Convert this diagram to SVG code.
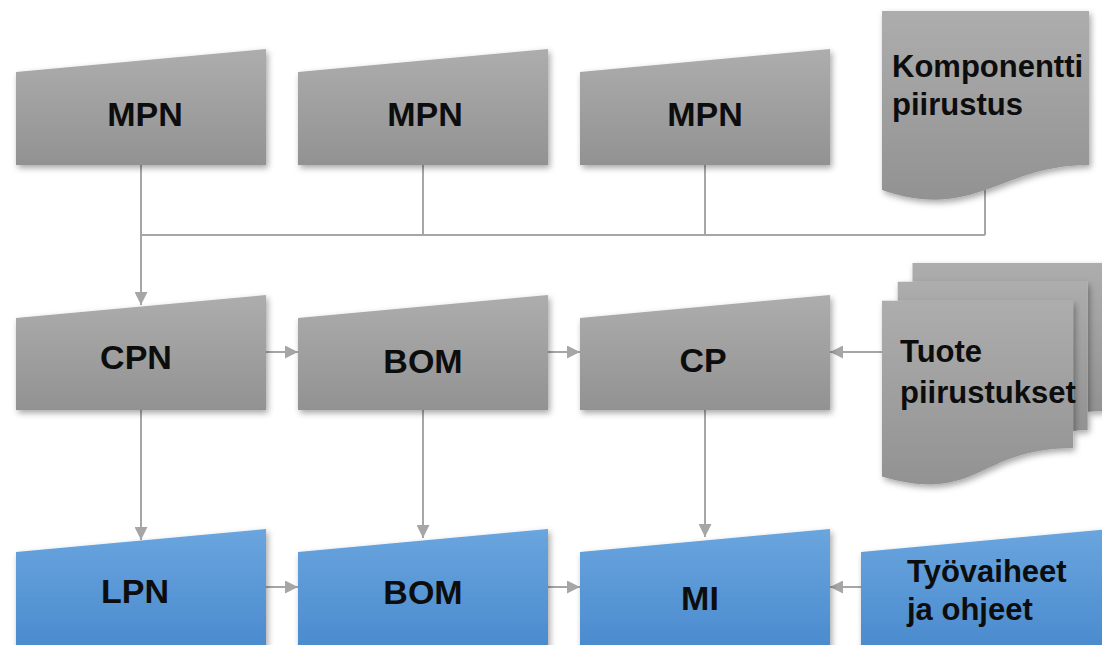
<svg xmlns="http://www.w3.org/2000/svg" width="1102" height="645" viewBox="0 0 1102 645">
  <defs>
    <linearGradient id="grayFill" x1="0" y1="0" x2="0" y2="1">
      <stop offset="0" stop-color="#adadad"/>
      <stop offset="1" stop-color="#929292"/>
    </linearGradient>
    <linearGradient id="blueFill" x1="0" y1="0" x2="0" y2="1">
      <stop offset="0" stop-color="#6aa5de"/>
      <stop offset="1" stop-color="#4788cd"/>
    </linearGradient>
    <filter id="shadow" x="-10%" y="-10%" width="125%" height="130%">
      <feDropShadow dx="2" dy="3" stdDeviation="3" flood-color="#000" flood-opacity="0.35"/>
    </filter>
    <marker id="arrow" viewBox="0 0 10 10" refX="10" refY="5" markerWidth="6.5" markerHeight="6.5" orient="auto" markerUnits="strokeWidth">
      <path d="M0,0 L10,5 L0,10 Z" fill="#a6a6a6"/>
    </marker>
  </defs>
  <style>
    .gray { fill: url(#grayFill); filter: url(#shadow); }
    .blue { fill: url(#blueFill); filter: url(#shadow); }
    .label { font-family: "Liberation Sans", Arial, sans-serif; font-weight: bold; font-size: 34px; fill: #0d0d0d; text-anchor: middle; }
    .side { font-family: "Liberation Sans", Arial, sans-serif; font-weight: bold; font-size: 31px; fill: #0d0d0d; }
    .conn { fill: none; stroke: #a6a6a6; stroke-width: 2; }
    .arr { marker-end: url(#arrow); }
  </style>
  <rect width="1102" height="645" fill="#ffffff"/>

  <!-- connectors -->
  <g id="connectors">
    <!-- collecting bus from the top row -->
    <path class="conn" d="M141,165 V235 M423,165 V235 M705,165 V235 M985,190 V235 M141,235 H985"/>
    <path class="conn arr" d="M141,235 V305"/>
    <!-- second row -->
    <path class="conn arr" d="M266,352 H298"/>
    <path class="conn arr" d="M548,352 H580"/>
    <path class="conn arr" d="M882,352 H830"/>
    <!-- down to the third row -->
    <path class="conn arr" d="M141,410 V540"/>
    <path class="conn arr" d="M423,410 V538"/>
    <path class="conn arr" d="M705,410 V537"/>
    <!-- third row -->
    <path class="conn arr" d="M266,587 H298"/>
    <path class="conn arr" d="M548,587 H580"/>
    <path class="conn arr" d="M861,587 H830"/>
  </g>

  <!-- top row -->
  <g id="mpn1">
    <path class="gray" d="M16,72 L266,49 L266,165 L16,165 Z"/>
    <text class="label" x="145" y="126">MPN</text>
  </g>
  <g id="mpn2">
    <path class="gray" d="M298,72 L548,49 L548,165 L298,165 Z"/>
    <text class="label" x="425" y="126">MPN</text>
  </g>
  <g id="mpn3">
    <path class="gray" d="M580,72 L830,49 L830,165 L580,165 Z"/>
    <text class="label" x="705" y="126">MPN</text>
  </g>
  <g id="komponentti">
    <path class="gray" d="M882,11 H1089 V165 C1000,165 975,222 882,190 Z"/>
    <text class="side" x="892" y="77">Komponentti</text>
    <text class="side" x="892" y="115">piirustus</text>
  </g>

  <!-- middle row -->
  <g id="cpn">
    <path class="gray" d="M16,318 L266,295 L266,410 L16,410 Z"/>
    <text class="label" x="136" y="369">CPN</text>
  </g>
  <g id="bom1">
    <path class="gray" d="M298,318 L548,295 L548,410 L298,410 Z"/>
    <text class="label" x="423" y="373">BOM</text>
  </g>
  <g id="cp">
    <path class="gray" d="M580,318 L830,295 L830,410 L580,410 Z"/>
    <text class="label" x="703" y="372">CP</text>
  </g>
  <g id="tuote">
    <path class="gray" d="M912.5,281.7 V263 H1104 V410.9 C1095.8,410.9 1087.6,411.7 1087.6,411.7 V281.7 Z"/>
    <path class="gray" d="M897.7,300.8 V281.7 H1087.6 V430 C1080.3,430 1073.1,431.1 1073.1,431.1 V300.8 Z"/>
    <path class="gray" d="M882,476.6 C977.6,505 977.6,448.2 1073.1,448.2 V300.8 H882 Z"/>
    <text class="side" x="900" y="362">Tuote</text>
    <text class="side" x="900" y="403">piirustukset</text>
  </g>

  <!-- bottom row -->
  <g id="lpn">
    <path class="blue" d="M16,552 L266,529 L266,660 L16,660 Z"/>
    <text class="label" x="135" y="603">LPN</text>
  </g>
  <g id="bom2">
    <path class="blue" d="M298,552 L548,529 L548,660 L298,660 Z"/>
    <text class="label" x="423" y="604">BOM</text>
  </g>
  <g id="mi">
    <path class="blue" d="M580,552 L830,529 L830,660 L580,660 Z"/>
    <text class="label" x="700" y="610">MI</text>
  </g>
  <g id="tyovaiheet">
    <path class="blue" d="M861,552 L1111,529 L1111,660 L861,660 Z"/>
    <text class="side" x="907" y="582">Työvaiheet</text>
    <text class="side" x="907" y="620">ja ohjeet</text>
  </g>
</svg>
